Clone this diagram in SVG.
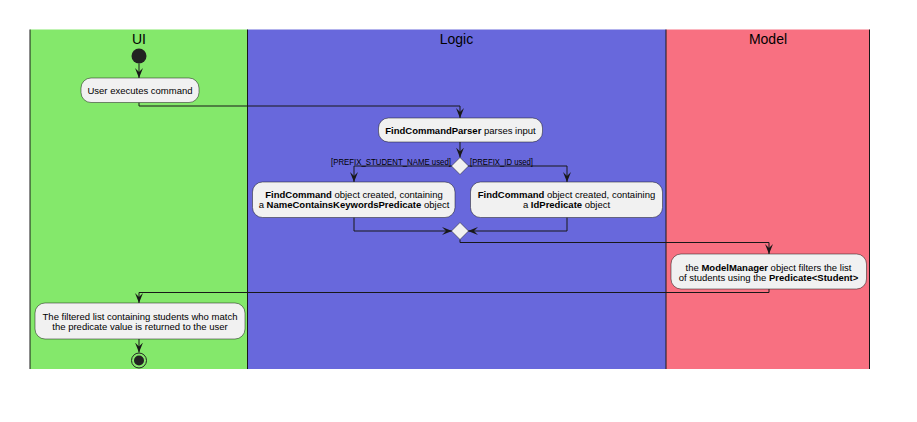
<svg xmlns="http://www.w3.org/2000/svg" width="917" height="422" viewBox="0 0 917 422">
<style>
  .lane-line { stroke: #181818; stroke-width: 1; }
  .hdr { font-family: "Liberation Sans", Arial, sans-serif; font-size: 14px; fill: #000; text-anchor: middle; }
  .node rect { fill: #F1F1F1; stroke: #181818; stroke-width: 0.5; }
  .txt { font-family: "Liberation Sans", Arial, sans-serif; font-size: 9.5px; fill: #000; text-anchor: middle; }
  .lbl { font-family: "Liberation Sans", Arial, sans-serif; font-size: 9px; fill: #000; }
  .b { font-weight: bold; }
  .conn { fill: none; stroke: #181818; stroke-width: 1; marker-end: url(#arrow); }
  .diamond { fill: #F1F1F1; stroke: #181818; stroke-width: 0.5; }
</style>
<defs>
  <marker id="arrow" viewBox="0 0 10 8" refX="10" refY="4" markerWidth="10" markerHeight="8" markerUnits="userSpaceOnUse" orient="auto">
    <path d="M0,0 L10,4 L0,8 L4,4 Z" fill="#181818"/>
  </marker>
</defs>
<rect x="0" y="0" width="917" height="422" fill="#FFFFFF"/>
<g id="lanes">
  <rect x="30" y="29.5" width="217.5" height="339.5" fill="#84E86B"/>
  <rect x="247.5" y="29.5" width="418.5" height="339.5" fill="#6868DC"/>
  <rect x="666" y="29.5" width="203.5" height="339.5" fill="#F87081"/>
  <line class="lane-line" x1="30" y1="29.5" x2="30" y2="369"/>
  <line class="lane-line" x1="247.5" y1="29.5" x2="247.5" y2="369"/>
  <line class="lane-line" x1="666" y1="29.5" x2="666" y2="369"/>
  <line class="lane-line" x1="869.5" y1="29.5" x2="869.5" y2="369"/>
  <text class="hdr" x="139" y="43.5">UI</text>
  <text class="hdr" x="456.5" y="43.5">Logic</text>
  <text class="hdr" x="768" y="43.5">Model</text>
</g>
<g id="connectors">
  <path class="conn" d="M139,63.5 L139,78"/>
  <path class="conn" d="M139,102.5 L139,106 L460,106 L460,118"/>
  <path class="conn" d="M460,142 L460,157.5"/>
  <path class="conn" d="M452,166 L354,166 L354,182"/>
  <path class="conn" d="M468,166 L567,166 L567,182"/>
  <path class="conn" d="M354,217 L354,231 L452,231"/>
  <path class="conn" d="M567,217 L567,231 L468,231"/>
  <path class="conn" d="M460,239.5 L460,242.5 L769,242.5 L769,254"/>
  <path class="conn" d="M769,289 L769,292.5 L139,292.5 L139,303"/>
  <path class="conn" d="M139,339 L139,352.5"/>
  <text class="lbl" x="451" y="164.5" text-anchor="end" textLength="120" lengthAdjust="spacingAndGlyphs">[PREFIX_STUDENT_NAME used]</text>
  <text class="lbl" x="470" y="164.5" textLength="63" lengthAdjust="spacingAndGlyphs">[PREFIX_ID used]</text>
</g>
<g id="start">
  <circle cx="139" cy="56" r="7.5" fill="#222222"/>
</g>
<g id="node-user-executes" class="node">
  <rect x="81" y="78" width="118" height="24.5" rx="10"/>
  <text class="txt" x="140" y="94">User executes command</text>
</g>
<g id="node-parser" class="node">
  <rect x="378.5" y="118" width="164" height="24" rx="10"/>
  <text class="txt" x="460.5" y="133.5"><tspan class="b">FindCommandParser</tspan> parses input</text>
</g>
<g id="decision-split">
  <polygon class="diamond" points="460,157.5 468.5,166 460,174.5 451.5,166"/>
</g>
<g id="node-name-predicate" class="node">
  <rect x="252.5" y="182" width="202.5" height="35.5" rx="10"/>
  <text class="txt" x="354" y="197.5"><tspan class="b">FindCommand</tspan> object created, containing</text>
  <text class="txt" x="354" y="208"><tspan>a </tspan><tspan class="b">NameContainsKeywordsPredicate</tspan> object</text>
</g>
<g id="node-id-predicate" class="node">
  <rect x="470.5" y="182" width="192" height="35.5" rx="10"/>
  <text class="txt" x="566.5" y="197.5"><tspan class="b">FindCommand</tspan> object created, containing</text>
  <text class="txt" x="566.5" y="208"><tspan>a </tspan><tspan class="b">IdPredicate</tspan> object</text>
</g>
<g id="decision-merge">
  <polygon class="diamond" points="460,222.5 468.5,231 460,239.5 451.5,231"/>
</g>
<g id="node-model-filter" class="node">
  <rect x="671" y="254" width="195.5" height="35" rx="10"/>
  <text class="txt" x="768.5" y="270.5">the <tspan class="b">ModelManager</tspan> object filters the list</text>
  <text class="txt" x="768.5" y="281">of students using the <tspan class="b">Predicate&lt;Student&gt;</tspan></text>
</g>
<g id="node-return" class="node">
  <rect x="35" y="303" width="210" height="36" rx="10"/>
  <text class="txt" x="140" y="319.5">The filtered list containing students who match</text>
  <text class="txt" x="140" y="330">the predicate value is returned to the user</text>
</g>
<g id="end">
  <circle cx="139" cy="360.5" r="7.5" fill="none" stroke="#222222" stroke-width="1"/>
  <circle cx="139" cy="360.5" r="5" fill="#222222"/>
</g>
</svg>
